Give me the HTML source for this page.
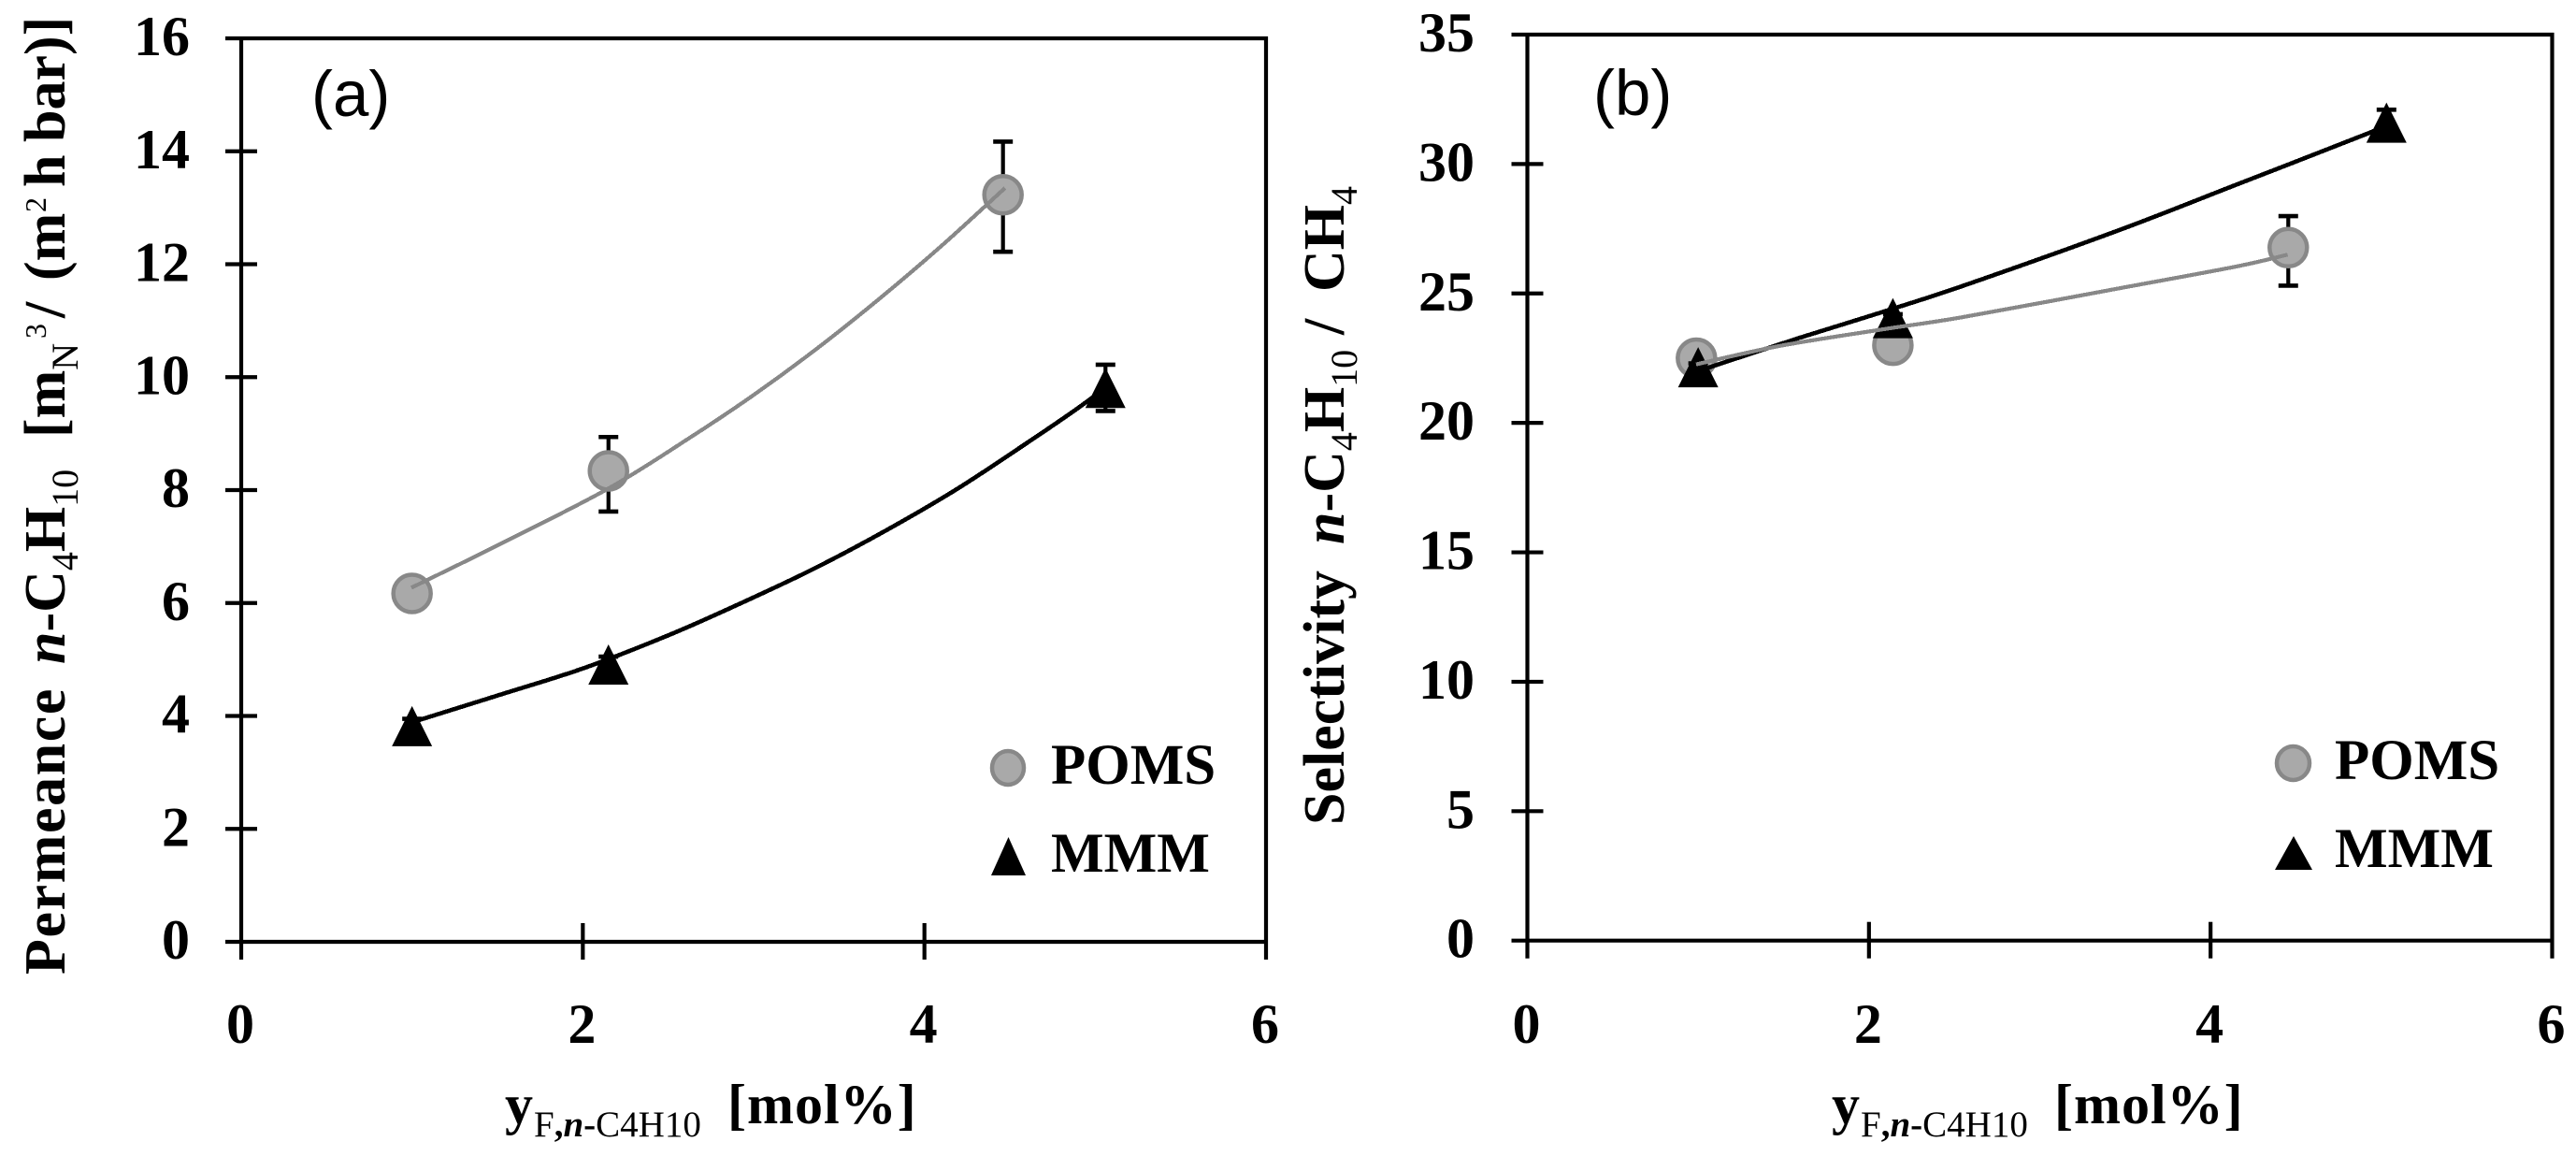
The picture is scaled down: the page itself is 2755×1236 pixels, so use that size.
<!DOCTYPE html>
<html lang="en">
<head>
<meta charset="utf-8">
<title>Permeance and selectivity vs feed concentration</title>
<style>
html,body{margin:0;padding:0;background:#fff;}
svg{display:block;}
text{font-family:"Liberation Serif",serif;font-weight:bold;fill:#000;}
.sub{font-weight:normal;font-size:40px;}
.sup{font-weight:normal;font-size:32px;}
.it{font-style:italic;font-weight:bold;}
.sans{font-family:"Liberation Sans",sans-serif;font-weight:normal;}
</style>
</head>
<body>
<svg id="figure" xmlns="http://www.w3.org/2000/svg" width="2755" height="1236" viewBox="0 0 2755 1236">
  <rect x="0" y="0" width="2755" height="1236" fill="#fff"/>

  <g id="panel-a"></g>
  <g id="panel-b"></g>

  <text class="sans" x="333" y="124" font-size="69">(a)</text>
  <text class="sans" x="1704" y="123" font-size="69">(b)</text>

  <text transform="translate(69,1042) rotate(-90)" font-size="62"><tspan x="0" letter-spacing="1.6">Permeance</tspan><tspan x="332" class="it">n</tspan><tspan>-C</tspan><tspan class="sub" dy="14">4</tspan><tspan dy="-14">H</tspan><tspan class="sub" dy="14">10</tspan><tspan x="574" dy="-14">[m</tspan><tspan class="sub" dy="14">N</tspan><tspan class="sup" x="680" dy="-34">3</tspan><tspan x="702" dy="20">/</tspan><tspan x="742">(m</tspan><tspan class="sup" x="815" dy="-20">2</tspan><tspan x="842" dy="20">h</tspan><tspan x="890">bar)]</tspan></text>

  <text transform="translate(1437,882) rotate(-90)" font-size="62"><tspan x="0">Selectivity</tspan><tspan x="300" class="it">n</tspan><tspan>-C</tspan><tspan class="sub" dy="14">4</tspan><tspan dy="-14">H</tspan><tspan class="sub" dy="14">10</tspan><tspan x="524" dy="-14">/</tspan><tspan x="570">CH</tspan><tspan class="sub" dy="14">4</tspan></text>

  <text y="1201" font-size="60"><tspan x="540">y</tspan><tspan x="571" dy="14" font-size="39" font-weight="normal">F</tspan><tspan font-size="39">,</tspan><tspan font-size="39" font-style="italic">n</tspan><tspan font-size="39">-</tspan><tspan font-size="39" font-weight="normal">C4H10</tspan><tspan x="778" dy="-14" letter-spacing="1">[mol%]</tspan></text>
  <text y="1201" font-size="60"><tspan x="1959">y</tspan><tspan x="1990" dy="14" font-size="39" font-weight="normal">F</tspan><tspan font-size="39">,</tspan><tspan font-size="39" font-style="italic">n</tspan><tspan font-size="39">-</tspan><tspan font-size="39" font-weight="normal">C4H10</tspan><tspan x="2197" dy="-14" letter-spacing="1">[mol%]</tspan></text>

  <g>
    <ellipse cx="1078" cy="821" rx="17" ry="18" fill="#a9a9a9" stroke="#888" stroke-width="4.5"/>
    <text x="1124" y="838" font-size="61">POMS</text>
    <polygon points="1078.5,895 1097,936 1060,936" fill="#000"/>
    <text x="1124" y="932" font-size="60">MMM</text>
  </g>
  <g>
    <ellipse cx="2452.5" cy="816" rx="17.5" ry="18" fill="#a9a9a9" stroke="#888" stroke-width="4.5"/>
    <text x="2497" y="833" font-size="61">POMS</text>
    <polygon points="2453,894 2473,930 2433,930" fill="#000"/>
    <text x="2497" y="927" font-size="60">MMM</text>
  </g>
</svg>

<script>
// Axis tick values
const xTickValues = [0, 2, 4, 6];
const yTickValuesA = [0, 2, 4, 6, 8, 10, 12, 14, 16];
const yTickValuesB = [0, 5, 10, 15, 20, 25, 30, 35];

// Panel (a) - permeance
const pomsFeedA = [1.0, 2.15, 4.46];
const pomsPermeance = [6.17, 8.34, 13.23];
const pomsPermeanceHi = [6.3, 8.94, 14.17];
const pomsPermeanceLo = [6.05, 7.62, 12.22];
const mmmFeedA = [1.0, 2.15, 5.06];
const mmmPermeance = [3.82, 4.91, 9.81];
const mmmPermeanceHi = [3.95, 5.05, 10.22];
const mmmPermeanceLo = [3.7, 4.8, 9.4];
const pomsTrendXA = [0.996, 1.52, 2.151, 2.638, 3.003, 3.368, 3.733, 4.098, 4.472];
const pomsTrendYA = [6.27, 7.05, 8.03, 8.95, 9.69, 10.5, 11.38, 12.32, 13.35];
const mmmTrendXA = [1.002, 1.52, 2.009, 2.51, 2.928, 3.348, 3.766, 4.186, 4.603, 4.898, 5.057];
const mmmTrendYA = [3.89, 4.38, 4.85, 5.44, 6.0, 6.6, 7.27, 8.01, 8.84, 9.45, 9.81];

// Panel (b) - selectivity
const pomsFeedB = [0.99, 2.14, 4.455];
const pomsSelectivity = [22.5, 23.0, 26.77];
const pomsSelectivityHi = [22.7, 23.2, 27.99];
const pomsSelectivityLo = [22.3, 22.8, 25.3];
const mmmFeedB = [1.0, 2.14, 5.03];
const mmmSelectivity = [22.15, 24.05, 31.6];
const mmmSelectivityHi = [22.3, 24.2, 32.1];
const mmmSelectivityLo = [22.0, 23.9, 31.1];
const pomsTrendXB = [0.988, 1.475, 2.087, 2.553, 3.466, 4.15, 4.451];
const pomsTrendYB = [22.26, 22.97, 23.62, 24.09, 25.2, 26.04, 26.5];
const mmmTrendXB = [0.993, 1.6, 2.087, 2.553, 3.466, 4.15, 4.928, 5.026];
const mmmTrendYB = [21.99, 23.3, 24.3, 25.3, 27.45, 29.2, 31.2, 31.53];

const SVGNS = 'http://www.w3.org/2000/svg';
function make(tag, parent) {
  const el = document.createElementNS(SVGNS, tag);
  parent.appendChild(el);
  return el;
}
function scale(d0, d1, p0, p1) {
  return function (v) { return p0 + (v - d0) * (p1 - p0) / (d1 - d0); };
}
function segment(parent, x1, y1, x2, y2, color, width) {
  const l = make('line', parent);
  l.setAttribute('x1', x1);
  l.setAttribute('y1', y1);
  l.setAttribute('x2', x2);
  l.setAttribute('y2', y2);
  l.setAttribute('stroke', color);
  l.setAttribute('stroke-width', width);
  return l;
}

function drawAxes(g, px, py, xs, ys, yLabelRight) {
  const xMax = xs[xs.length - 1];
  const yMax = ys[ys.length - 1];
  const left = px(0), right = px(xMax), bottom = py(0), top = py(yMax);

  const frameTop = segment(g, left - 17, top, right + 2, top, '#000', 4.2);
  
  
  const frameRight = segment(g, right, top - 2, right, bottom + 19, '#000', 4.2);
  
  
  const xAxis = segment(g, left - 17, bottom, right, bottom, '#000', 4.2);
  
  
  const yAxis = segment(g, left, top - 2, left, bottom + 19, '#000', 4.2);
  
  

  xs.forEach(function (v) {
    if (v !== 0 && v !== xMax) {
      const t = segment(g, px(v), bottom - 20, px(v), bottom + 19, '#000', 4.2);
      
      
    }
    const lab = make('text', g);
    
    
    lab.setAttribute('x', px(v) - 1);
    lab.setAttribute('y', 1115);
    lab.setAttribute('font-size', 60);
    lab.setAttribute('text-anchor', 'middle');
    lab.textContent = v;
  });
  ys.forEach(function (v) {
    if (v !== 0 && v !== yMax) {
      const t = segment(g, left - 17, py(v), left + 17, py(v), '#000', 4.2);
      
      
    }
    const lab = make('text', g);
    
    
    lab.setAttribute('x', yLabelRight);
    lab.setAttribute('y', py(v) + 18);
    lab.setAttribute('font-size', 60);
    lab.setAttribute('text-anchor', 'end');
    lab.textContent = v;
  });
}

function drawErrors(g, px, py, xv, hi, lo) {
  xv.forEach(function (x, i) {
    const cx = px(x);
    const stem = segment(g, cx, py(hi[i]), cx, py(lo[i]), '#000', 4.2);
    
    
    const capHi = segment(g, cx - 10.5, py(hi[i]), cx + 10.5, py(hi[i]), '#000', 4.6);
    
    
    const capLo = segment(g, cx - 10.5, py(lo[i]), cx + 10.5, py(lo[i]), '#000', 4.6);
    
    
  });
}
function drawCircles(g, px, py, xv, yv) {
  xv.forEach(function (x, i) {
    const c = make('circle', g);
    
    
    c.setAttribute('cx', px(x));
    c.setAttribute('cy', py(yv[i]));
    c.setAttribute('r', 20);
    c.setAttribute('fill', '#a9a9a9');
    c.setAttribute('stroke', '#888');
    c.setAttribute('stroke-width', 4.5);
  });
}
function drawTriangles(g, px, py, xv, yv) {
  xv.forEach(function (x, i) {
    const cx = px(x), cy = py(yv[i]);
    const t = make('polygon', g);
    
    
    t.setAttribute('points', cx + ',' + (cy - 21.5) + ' ' + (cx + 21.5) + ',' + (cy + 21.5) + ' ' + (cx - 21.5) + ',' + (cy + 21.5));
    t.setAttribute('fill', '#000');
  });
}
function drawTrend(g, px, py, xv, yv, color, width, name) {
  const pts = xv.map(function (x, i) { return [px(x), py(yv[i])]; });
  let d = 'M' + pts[0][0] + ' ' + pts[0][1];
  for (let i = 0; i < pts.length - 1; i++) {
    const p0 = pts[Math.max(i - 1, 0)], p1 = pts[i], p2 = pts[i + 1], p3 = pts[Math.min(i + 2, pts.length - 1)];
    const c1x = p1[0] + (p2[0] - p0[0]) / 6, c1y = p1[1] + (p2[1] - p0[1]) / 6;
    const c2x = p2[0] - (p3[0] - p1[0]) / 6, c2y = p2[1] - (p3[1] - p1[1]) / 6;
    d += ' C' + c1x + ' ' + c1y + ' ' + c2x + ' ' + c2y + ' ' + p2[0] + ' ' + p2[1];
  }
  const p = make('path', g);
  
  
  p.setAttribute('d', d);
  p.setAttribute('fill', 'none');
  p.setAttribute('stroke', color);
  p.setAttribute('stroke-width', width);
  p.setAttribute('shape-rendering', 'crispEdges');
}

// Panel (a)
const gA = document.getElementById('panel-a');
const xA = scale(0, 6, 258, 1354);
const yA = scale(0, 16, 1007, 41);
drawAxes(gA, xA, yA, xTickValues, yTickValuesA, 203);
drawErrors(gA, xA, yA, pomsFeedA, pomsPermeanceHi, pomsPermeanceLo);
drawErrors(gA, xA, yA, mmmFeedA, mmmPermeanceHi, mmmPermeanceLo);
drawCircles(gA, xA, yA, pomsFeedA, pomsPermeance);
drawTriangles(gA, xA, yA, mmmFeedA, mmmPermeance);
drawTrend(gA, xA, yA, mmmTrendXA, mmmTrendYA, '#000', 4.6, 'mmm-trendline');
drawTrend(gA, xA, yA, pomsTrendXA, pomsTrendYA, '#888', 4.2, 'poms-trendline');

// Panel (b)
const gB = document.getElementById('panel-b');
const xB = scale(0, 6, 1633.5, 2729.5);
const yB = scale(0, 35, 1005.7, 37);
drawAxes(gB, xB, yB, xTickValues, yTickValuesB, 1577);
drawErrors(gB, xB, yB, pomsFeedB, pomsSelectivityHi, pomsSelectivityLo);
drawCircles(gB, xB, yB, pomsFeedB, pomsSelectivity);
drawErrors(gB, xB, yB, mmmFeedB, mmmSelectivityHi, mmmSelectivityLo);
drawTriangles(gB, xB, yB, mmmFeedB, mmmSelectivity);
drawTrend(gB, xB, yB, mmmTrendXB, mmmTrendYB, '#000', 4.6, 'mmm-trendline');
drawTrend(gB, xB, yB, pomsTrendXB, pomsTrendYB, '#888', 4.2, 'poms-trendline');
</script>
</body>
</html>
